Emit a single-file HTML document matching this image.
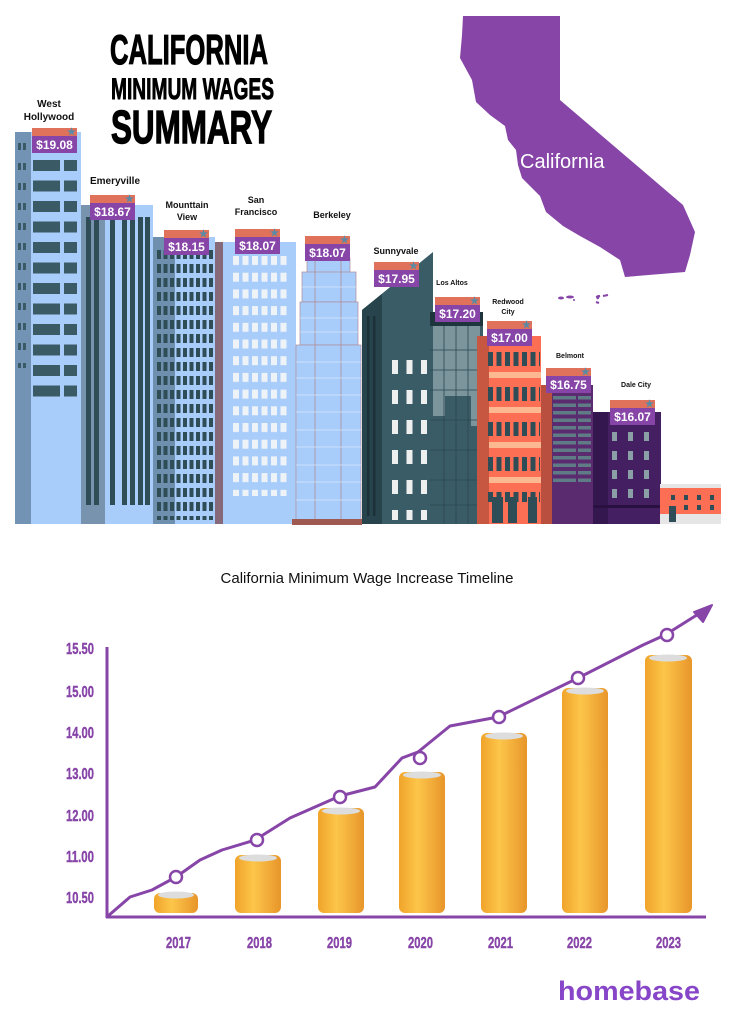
<!DOCTYPE html>
<html><head><meta charset="utf-8"><style>
html,body{margin:0;padding:0;background:#fff;}
svg{display:block;font-family:"Liberation Sans",sans-serif;}
</style></head><body>
<svg width="735" height="1024" viewBox="0 0 735 1024" xmlns="http://www.w3.org/2000/svg">
<defs>
<pattern id="wh" x="33" y="160" width="48" height="20.5" patternUnits="userSpaceOnUse"><rect x="0" y="0" width="27" height="11" fill="#3a5a66"/><rect x="31" y="0" width="13" height="11" fill="#3a5a66"/></pattern>
<pattern id="whs" x="18" y="143" width="10" height="20" patternUnits="userSpaceOnUse"><rect x="0" y="0" width="3" height="7" fill="#3a5a66"/><rect x="5" y="0" width="3" height="7" fill="#3a5a66"/></pattern>
<pattern id="mv" x="157" y="250" width="6.5" height="14" patternUnits="userSpaceOnUse"><rect x="0" y="0" width="4" height="9" fill="#2e4d57"/></pattern>
<pattern id="sf" x="233" y="256" width="9.5" height="16.7" patternUnits="userSpaceOnUse"><rect x="0" y="0" width="6" height="9" fill="#eef3f8"/></pattern>
<pattern id="sv" x="392" y="360" width="14.5" height="30" patternUnits="userSpaceOnUse"><rect x="0" y="0" width="6" height="14" fill="#eef0f0"/></pattern>
<pattern id="rw" x="488" y="352" width="8.5" height="35" patternUnits="userSpaceOnUse"><rect x="0" y="0" width="5" height="14" fill="#2e4d57"/></pattern>
<pattern id="bm" x="553" y="396" width="36" height="7.5" patternUnits="userSpaceOnUse"><rect x="0" y="0" width="23" height="3.5" fill="#5f7c86"/><rect x="25" y="0" width="11" height="3.5" fill="#5f7c86"/></pattern>
<pattern id="dc" x="612" y="432" width="16" height="19" patternUnits="userSpaceOnUse"><rect x="0" y="0" width="5" height="9" fill="#8aa0a6"/></pattern>
<linearGradient id="coin" x1="0" x2="1"><stop offset="0" stop-color="#f0a32a"/><stop offset="0.4" stop-color="#fcc64a"/><stop offset="1" stop-color="#e8952a"/></linearGradient>
</defs>

<!-- Title -->
<g font-family="'Liberation Sans',sans-serif" font-weight="bold" fill="#000" stroke="#000">
<text x="110" y="64" font-size="42" stroke-width="1.2" textLength="158" lengthAdjust="spacingAndGlyphs">CALIFORNIA</text>
<text x="111" y="99" font-size="30" stroke-width="0.9" textLength="163" lengthAdjust="spacingAndGlyphs">MINIMUM WAGES</text>
<text x="111" y="143" font-size="46" stroke-width="1.4" textLength="161" lengthAdjust="spacingAndGlyphs">SUMMARY</text>
</g>

<!-- California map -->
<path d="M463,16 L560,16 L560,100 L683,205 L695,232 L690,255 L685,272 L625,277 L620,260 L600,247 L580,236 L563,226 L546,212 L540,196 L522,178 L518,165 L516,150 L508,140 L505,126 L490,115 L476,102 L472,80 L460,58 L462,35 Z" fill="#8745a8"/>
<g fill="#8745a8"><ellipse cx="561" cy="298" rx="3" ry="1.5"/><ellipse cx="570" cy="297" rx="4" ry="1.5"/><ellipse cx="574" cy="300" rx="1" ry="1"/><ellipse cx="598" cy="297" rx="1.5" ry="1"/><ellipse cx="598" cy="296" rx="1" ry="1"/><ellipse cx="599" cy="296" rx="1" ry="1"/><ellipse cx="598" cy="298" rx="1" ry="1"/><ellipse cx="598" cy="297" rx="1" ry="1"/><ellipse cx="598" cy="297" rx="1" ry="1"/><ellipse cx="598" cy="298" rx="1" ry="1"/><ellipse cx="598" cy="297" rx="1" ry="1"/><ellipse cx="598" cy="297" rx="1" ry="1"/></g>
<path d="M596,297 L600,296 M603,296 L608,295 M596,302 L599,303 M597,297 L598,299" stroke="#8745a8" stroke-width="2"/>
<text x="520" y="168" font-size="20" fill="#fff">California</text>

<!-- West Hollywood -->
<rect x="15" y="132" width="16" height="392" fill="#7393b4"/>
<rect x="31" y="132" width="50" height="392" fill="#a9cdfb"/>
<rect x="18" y="143" width="10" height="225" fill="url(#whs)"/>
<rect x="33" y="160" width="46" height="240" fill="url(#wh)"/>
<!-- Emeryville -->
<rect x="81" y="205" width="24" height="319" fill="#7893ad"/>
<rect x="105" y="205" width="48" height="319" fill="#a9cdfb"/>
<g fill="#2e4d57"><rect x="86" y="217" width="5" height="288"/><rect x="94" y="217" width="5" height="288"/><rect x="110" y="217" width="5" height="288"/><rect x="122" y="217" width="5" height="288"/><rect x="130" y="217" width="5" height="288"/><rect x="138" y="217" width="5" height="288"/><rect x="145" y="217" width="5" height="288"/></g>
<!-- Mountain View -->
<rect x="153" y="237" width="22" height="287" fill="#6f8fae"/>
<rect x="175" y="237" width="40" height="287" fill="#a9cdfb"/>
<rect x="157" y="250" width="56" height="270" fill="url(#mv)"/>
<rect x="215" y="242" width="8" height="282" fill="#866a7a"/>
<!-- San Francisco -->
<rect x="223" y="242" width="73" height="282" fill="#a9cdfb"/>
<rect x="233" y="256" width="55" height="240" fill="url(#sf)"/>
<!-- Berkeley -->
<rect x="307" y="258" width="43" height="15" fill="#a9cdfb" stroke="#b08a96" stroke-width="0.7"/>
<rect x="302" y="272" width="54" height="30" fill="#a9cdfb" stroke="#b08a96" stroke-width="0.7"/>
<rect x="300" y="302" width="58" height="43" fill="#a9cdfb" stroke="#b08a96" stroke-width="0.7"/>
<rect x="296" y="345" width="65" height="175" fill="#a9cdfb" stroke="#b08a96" stroke-width="0.7"/>
<g stroke="#b08a96" stroke-width="0.8"><line x1="315" y1="258" x2="315" y2="520"/><line x1="341" y1="258" x2="341" y2="520"/></g>
<g stroke="#d6e6fb" stroke-width="0.7"><line x1="296" y1="362" x2="361" y2="362"/><line x1="296" y1="378" x2="361" y2="378"/><line x1="296" y1="395" x2="361" y2="395"/><line x1="296" y1="412" x2="361" y2="412"/><line x1="296" y1="430" x2="361" y2="430"/><line x1="296" y1="447" x2="361" y2="447"/><line x1="296" y1="465" x2="361" y2="465"/><line x1="296" y1="482" x2="361" y2="482"/><line x1="296" y1="500" x2="361" y2="500"/><line x1="300" y1="318" x2="358" y2="318"/><line x1="300" y1="332" x2="358" y2="332"/><line x1="302" y1="287" x2="356" y2="287"/></g>
<rect x="292" y="519" width="70" height="6" fill="#9e5a50"/>
<!-- Sunnyvale -->
<path d="M362,310 L433,252 L433,524 L362,524 Z" fill="#3a5c66"/>
<path d="M362,310 L382,294 L382,524 L362,524 Z" fill="#27434b"/>
<rect x="392" y="360" width="40" height="160" fill="url(#sv)"/>
<g fill="#1c3038"><rect x="367" y="316" width="2.5" height="200"/><rect x="373" y="316" width="2.5" height="200"/></g>
<!-- Los Altos -->
<rect x="430" y="312" width="53" height="212" fill="#3a5c66"/>
<rect x="430" y="312" width="53" height="14" fill="#1e353d"/>
<rect x="433" y="326" width="47" height="70" fill="#7c959c"/>
<rect x="433" y="396" width="12" height="20" fill="#7c959c"/>
<rect x="471" y="396" width="9" height="30" fill="#7c959c"/>
<g stroke="#2a4650" stroke-width="0.8"><line x1="444" y1="326" x2="444" y2="524"/><line x1="456" y1="326" x2="456" y2="524"/><line x1="468" y1="326" x2="468" y2="524"/><line x1="430" y1="350" x2="483" y2="350"/><line x1="430" y1="370" x2="483" y2="370"/><line x1="430" y1="390" x2="483" y2="390"/><line x1="430" y1="420" x2="483" y2="420"/><line x1="430" y1="450" x2="483" y2="450"/><line x1="430" y1="480" x2="483" y2="480"/><line x1="430" y1="505" x2="483" y2="505"/></g>
<!-- Redwood City -->
<rect x="477" y="336" width="64" height="188" fill="#fd6f55"/>
<rect x="477" y="336" width="12" height="188" fill="#c75740"/>
<rect x="488" y="352" width="52" height="150" fill="url(#rw)"/>
<g fill="#fcb891"><rect x="489" y="372" width="52" height="6"/><rect x="489" y="407" width="52" height="6"/><rect x="489" y="442" width="52" height="6"/><rect x="489" y="477" width="52" height="6"/></g>
<g fill="#2e4d57"><rect x="492" y="497" width="11" height="26"/><rect x="508" y="497" width="9" height="26"/><rect x="528" y="497" width="9" height="26"/></g>
<!-- Belmont -->
<rect x="541" y="385" width="13" height="139" fill="#b84f3f"/>
<rect x="552" y="385" width="41" height="139" fill="#5a2b6e"/>
<rect x="553" y="396" width="38" height="90" fill="url(#bm)"/>
<!-- Dale City -->
<rect x="593" y="412" width="68" height="112" fill="#442063"/>
<rect x="593" y="412" width="15" height="112" fill="#33174e"/>
<rect x="612" y="432" width="44" height="76" fill="url(#dc)"/>
<rect x="593" y="505" width="68" height="3" fill="#2a1040"/>
<!-- small building -->
<rect x="660" y="484" width="61" height="40" fill="#e6e6e6"/>
<rect x="660" y="488" width="61" height="26" fill="#fd6f55"/>
<g fill="#2e4d57"><rect x="671" y="495" width="4" height="5"/><rect x="684" y="495" width="4" height="5"/><rect x="697" y="495" width="4" height="5"/><rect x="710" y="495" width="4" height="5"/><rect x="684" y="505" width="4" height="5"/><rect x="697" y="505" width="4" height="5"/><rect x="710" y="505" width="4" height="5"/><rect x="669" y="506" width="7" height="16"/></g>

<!-- Wage labels -->
<g font-size="12" font-weight="bold" fill="#fff">
<g transform="translate(32,128)"><rect width="45" height="8" fill="#e0715a"/><rect y="8" width="45" height="17" fill="#8745a8"/><text x="22.5" y="21" text-anchor="middle">$19.08</text><text x="35" y="7" font-size="10" fill="#5b8aa6">★</text></g>
<g transform="translate(90,195)"><rect width="45" height="8" fill="#e0715a"/><rect y="8" width="45" height="17" fill="#8745a8"/><text x="22.5" y="21" text-anchor="middle">$18.67</text><text x="35" y="7" font-size="10" fill="#5b8aa6">★</text></g>
<g transform="translate(164,230)"><rect width="45" height="8" fill="#e0715a"/><rect y="8" width="45" height="17" fill="#8745a8"/><text x="22.5" y="21" text-anchor="middle">$18.15</text><text x="35" y="7" font-size="10" fill="#5b8aa6">★</text></g>
<g transform="translate(235,229)"><rect width="45" height="8" fill="#e0715a"/><rect y="8" width="45" height="17" fill="#8745a8"/><text x="22.5" y="21" text-anchor="middle">$18.07</text><text x="35" y="7" font-size="10" fill="#5b8aa6">★</text></g>
<g transform="translate(305,236)"><rect width="45" height="8" fill="#e0715a"/><rect y="8" width="45" height="17" fill="#8745a8"/><text x="22.5" y="21" text-anchor="middle">$18.07</text><text x="35" y="7" font-size="10" fill="#5b8aa6">★</text></g>
<g transform="translate(374,262)"><rect width="45" height="8" fill="#e0715a"/><rect y="8" width="45" height="17" fill="#8745a8"/><text x="22.5" y="21" text-anchor="middle">$17.95</text><text x="35" y="7" font-size="10" fill="#5b8aa6">★</text></g>
<g transform="translate(435,297)"><rect width="45" height="8" fill="#e0715a"/><rect y="8" width="45" height="17" fill="#8745a8"/><text x="22.5" y="21" text-anchor="middle">$17.20</text><text x="35" y="7" font-size="10" fill="#5b8aa6">★</text></g>
<g transform="translate(487,321)"><rect width="45" height="8" fill="#e0715a"/><rect y="8" width="45" height="17" fill="#8745a8"/><text x="22.5" y="21" text-anchor="middle">$17.00</text><text x="35" y="7" font-size="10" fill="#5b8aa6">★</text></g>
<g transform="translate(546,368)"><rect width="45" height="8" fill="#e0715a"/><rect y="8" width="45" height="17" fill="#8745a8"/><text x="22.5" y="21" text-anchor="middle">$16.75</text><text x="35" y="7" font-size="10" fill="#5b8aa6">★</text></g>
<g transform="translate(610,400)"><rect width="45" height="8" fill="#e0715a"/><rect y="8" width="45" height="17" fill="#8745a8"/><text x="22.5" y="21" text-anchor="middle">$16.07</text><text x="35" y="7" font-size="10" fill="#5b8aa6">★</text></g>
</g>

<!-- City names -->
<g font-weight="bold" fill="#111" text-anchor="middle">
<text x="49" y="107" font-size="10">West</text><text x="49" y="120" font-size="10">Hollywood</text>
<text x="115" y="184" font-size="10">Emeryville</text>
<text x="187" y="208" font-size="9">Mounttain</text><text x="187" y="220" font-size="9">View</text>
<text x="256" y="203" font-size="9">San</text><text x="256" y="215" font-size="9">Francisco</text>
<text x="332" y="218" font-size="9">Berkeley</text>
<text x="396" y="254" font-size="9">Sunnyvale</text>
<text x="452" y="285" font-size="7">Los Altos</text>
<text x="508" y="304" font-size="7">Redwood</text><text x="508" y="314" font-size="7">City</text>
<text x="570" y="358" font-size="7">Belmont</text>
<text x="636" y="387" font-size="7">Dale City</text>
</g>

<!-- Chart title -->
<text x="367" y="583" font-size="15" fill="#111" text-anchor="middle">California Minimum Wage Increase Timeline</text>

<!-- Coin stacks -->
<g>
<rect x="154" y="893" width="44" height="20" rx="6" fill="url(#coin)"/><ellipse cx="176" cy="895" rx="18" ry="3.5" fill="#ddd"/>
<rect x="235" y="855" width="46" height="58" rx="6" fill="url(#coin)"/><ellipse cx="258" cy="858" rx="19" ry="3.5" fill="#ddd"/>
<rect x="318" y="808" width="46" height="105" rx="6" fill="url(#coin)"/><ellipse cx="341" cy="811" rx="19" ry="3.5" fill="#ddd"/>
<rect x="399" y="772" width="46" height="141" rx="6" fill="url(#coin)"/><ellipse cx="422" cy="775" rx="19" ry="3.5" fill="#ddd"/>
<rect x="481" y="733" width="46" height="180" rx="6" fill="url(#coin)"/><ellipse cx="504" cy="736" rx="19" ry="3.5" fill="#ddd"/>
<rect x="562" y="688" width="46" height="225" rx="6" fill="url(#coin)"/><ellipse cx="585" cy="691" rx="19" ry="3.5" fill="#ddd"/>
<rect x="645" y="655" width="47" height="258" rx="6" fill="url(#coin)"/><ellipse cx="668" cy="658" rx="19" ry="3.5" fill="#ddd"/>
</g>

<!-- Axes -->
<g stroke="#8745a8" stroke-width="3" fill="none">
<line x1="107" y1="647" x2="107" y2="918"/>
<line x1="106" y1="917" x2="706" y2="917"/>
<polyline stroke-linejoin="round" points="108,916 130,897 152,890 176,877 200,860 222,850 255,840 290,818 340,796 375,787 402,758 418,752 450,726 498,717 578,678 643,645 665,635 700,613"/>
</g>
<path d="M694,612 L712,605 L703,622 Z" fill="#8745a8" stroke="#8745a8" stroke-width="2" stroke-linejoin="round"/>
<g fill="#fff" stroke="#8745a8" stroke-width="2.5">
<circle cx="176" cy="877" r="6"/><circle cx="257" cy="840" r="6"/><circle cx="340" cy="797" r="6"/><circle cx="420" cy="758" r="6"/><circle cx="499" cy="717" r="6"/><circle cx="578" cy="678" r="6"/><circle cx="667" cy="635" r="6"/>
</g>

<!-- Axis labels -->
<g font-family="'Liberation Sans',sans-serif" font-weight="bold" fill="#8745a8" stroke="#8745a8" stroke-width="0.4" font-size="16">
<text x="66" y="654" textLength="28" lengthAdjust="spacingAndGlyphs">15.50</text>
<text x="66" y="697" textLength="28" lengthAdjust="spacingAndGlyphs">15.00</text>
<text x="66" y="738" textLength="28" lengthAdjust="spacingAndGlyphs">14.00</text>
<text x="66" y="779" textLength="28" lengthAdjust="spacingAndGlyphs">13.00</text>
<text x="66" y="821" textLength="28" lengthAdjust="spacingAndGlyphs">12.00</text>
<text x="66" y="862" textLength="28" lengthAdjust="spacingAndGlyphs">11.00</text>
<text x="66" y="903" textLength="28" lengthAdjust="spacingAndGlyphs">10.50</text>
<text x="166" y="948" textLength="25" lengthAdjust="spacingAndGlyphs">2017</text>
<text x="247" y="948" textLength="25" lengthAdjust="spacingAndGlyphs">2018</text>
<text x="327" y="948" textLength="25" lengthAdjust="spacingAndGlyphs">2019</text>
<text x="408" y="948" textLength="25" lengthAdjust="spacingAndGlyphs">2020</text>
<text x="488" y="948" textLength="25" lengthAdjust="spacingAndGlyphs">2021</text>
<text x="567" y="948" textLength="25" lengthAdjust="spacingAndGlyphs">2022</text>
<text x="656" y="948" textLength="25" lengthAdjust="spacingAndGlyphs">2023</text>
</g>

<!-- Logo -->
<text x="558" y="1000" font-size="27" font-weight="bold" fill="#8745c8" textLength="142" lengthAdjust="spacingAndGlyphs">homebase</text>
</svg>
</body></html>
